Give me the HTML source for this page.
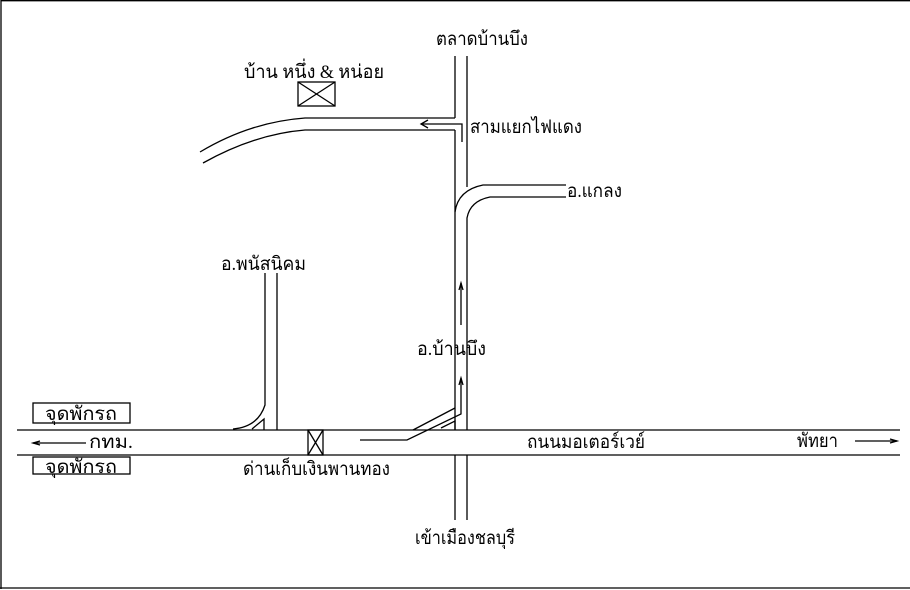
<!DOCTYPE html>
<html><head><meta charset="utf-8"><style>
html,body{margin:0;padding:0;background:#fff;}
svg{display:block;}
text{font-family:"Liberation Serif","Noto Serif CJK SC",serif;font-size:19px;fill:#000;}
</style></head><body>
<svg width="910" height="590" viewBox="0 0 910 590" xmlns="http://www.w3.org/2000/svg">
<g stroke="#000" stroke-width="1.3" fill="none">
<!-- frame -->
<line x1="1" y1="0.7" x2="910" y2="0.7"/>
<line x1="1" y1="0" x2="1" y2="589"/>
<line x1="0" y1="588" x2="910" y2="588"/>
<!-- highway -->
<line x1="17" y1="430" x2="900" y2="430"/>
<line x1="17" y1="455" x2="900" y2="455"/>
<!-- main vertical road -->
<line x1="455" y1="56" x2="455" y2="118"/>
<line x1="455" y1="130" x2="455" y2="430"/>
<path d="M467 56 V187"/>
<path d="M455 212 Q458 190 483 185 H566"/>
<path d="M566 197 H490 Q470 201 467 218 V430"/>
<line x1="455" y1="455" x2="455" y2="520"/>
<line x1="467" y1="455" x2="467" y2="520"/>
<!-- west road -->
<path d="M455 118 H305 Q250 122 200 152"/>
<path d="M455 130 H305 Q255 134 203 163"/>
<!-- arrow to west -->
<path d="M462 142 V124 H421"/>
<path d="M428 120 L421 124 L428 128"/>
<!-- house box -->
<rect x="298" y="82" width="37" height="24"/>
<line x1="298" y1="82" x2="335" y2="106"/>
<line x1="335" y1="82" x2="298" y2="106"/>
<!-- up arrow upper -->
<line x1="461" y1="325" x2="461" y2="283"/>
<path d="M459 290 L461 283 L463 290"/>
<!-- ramp -->
<path d="M360 440 H407 L461 414 V378"/>
<path d="M459 385 L461 378 L463 385"/>
<path d="M413 430 L455 408"/>
<!-- triangle east -->
<path d="M441 428 L455 421 V430"/>
<!-- panat road -->
<path d="M265 273 V405 Q258 427 233 429"/>
<line x1="277" y1="273" x2="277" y2="430"/>
<path d="M252 429 L264 419 V430"/>
<!-- toll box -->
<rect x="308" y="430" width="15" height="25"/>
<line x1="308" y1="430" x2="323" y2="455"/>
<line x1="323" y1="430" x2="308" y2="455"/>
<!-- rest stop boxes -->
<rect x="33" y="403" width="97" height="20"/>
<rect x="33" y="457" width="97" height="17"/>
<!-- arrows -->
<line x1="33" y1="443" x2="86" y2="443"/>
<path d="M40 441 L33 443 L40 445"/>
<line x1="855" y1="441" x2="897" y2="441"/>
<path d="M890 439 L897 441 L890 443"/>
</g>
<text x="436" y="45" textLength="92" lengthAdjust="spacingAndGlyphs">ตลาดบ้านบึง</text>
<text x="244" y="78" textLength="140" lengthAdjust="spacingAndGlyphs">บ้าน หนึ่ง &amp; หน่อย</text>
<text x="470" y="133" textLength="112" lengthAdjust="spacingAndGlyphs">สามแยกไฟแดง</text>
<text x="567" y="197" textLength="55" lengthAdjust="spacingAndGlyphs">อ.แกลง</text>
<text x="221" y="270" textLength="85" lengthAdjust="spacingAndGlyphs">อ.พนัสนิคม</text>
<text x="417" y="355" textLength="69" lengthAdjust="spacingAndGlyphs">อ.บ้านบึง</text>
<text x="45" y="420" textLength="72" lengthAdjust="spacingAndGlyphs">จุดพักรถ</text>
<text x="89" y="448" textLength="44" lengthAdjust="spacingAndGlyphs">กทม.</text>
<text x="45" y="473" textLength="72" lengthAdjust="spacingAndGlyphs">จุดพักรถ</text>
<text x="243" y="475" textLength="147" lengthAdjust="spacingAndGlyphs">ด่านเก็บเงินพานทอง</text>
<text x="527" y="448" textLength="118" lengthAdjust="spacingAndGlyphs">ถนนมอเตอร์เวย์</text>
<text x="797" y="447" textLength="41" lengthAdjust="spacingAndGlyphs">พัทยา</text>
<text x="415" y="544" textLength="100" lengthAdjust="spacingAndGlyphs">เข้าเมืองชลบุรี</text>
</svg>
</body></html>
